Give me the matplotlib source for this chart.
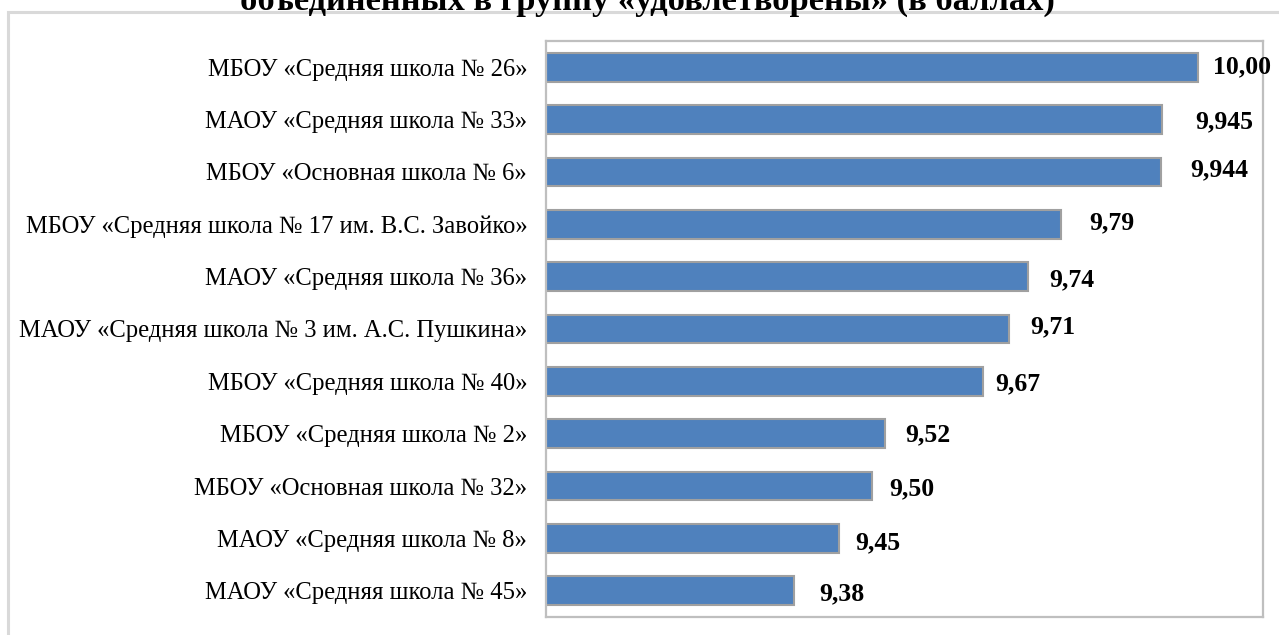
import matplotlib
matplotlib.use("Agg")
import matplotlib.pyplot as plt
from matplotlib.patches import Rectangle

# ---- data ----
schools = [
    "МБОУ «Средняя школа № 26»",
    "МАОУ «Средняя школа № 33»",
    "МБОУ «Основная школа № 6»",
    "МБОУ «Средняя школа № 17 им. В.С. Завойко»",
    "МАОУ «Средняя школа № 36»",
    "МАОУ «Средняя школа № 3 им. А.С. Пушкина»",
    "МБОУ «Средняя школа № 40»",
    "МБОУ «Средняя школа № 2»",
    "МБОУ «Основная школа № 32»",
    "МАОУ «Средняя школа № 8»",
    "МАОУ «Средняя школа № 45»",
]
scores = [10.00, 9.945, 9.944, 9.79, 9.74, 9.71, 9.67, 9.52, 9.50, 9.45, 9.38]
score_labels = ["10,00", "9,945", "9,944", "9,79", "9,74", "9,71",
                "9,67", "9,52", "9,50", "9,45", "9,38"]
title_text = "объединенных в группу «удовлетворены» (в баллах)"

# ---- style (label offsets in pixels, as placed in the original) ----
label_dx = [15, 33, 29, 28, 21, 21, 13, 20, 17, 16, 26]
label_dy = [0, 2, -2, -1, 3, -2, 2, 1, 3, 4, 3]

W, H, DPI = 1279, 635, 100
fig = plt.figure(figsize=(W / DPI, H / DPI), dpi=DPI)
fig.patch.set_facecolor("white")

serif = ["Liberation Serif", "DejaVu Serif"]

# outer chart border (continues past right/bottom edge)
fig.patches.append(Rectangle((8 / W, -0.2), 1.5, (1 - 12 / H) + 0.2,
                             transform=fig.transFigure, fill=False,
                             ec="#d9d9d9", lw=2.2, zorder=0))

# title (only its last line visible, clipped at top as in the original)
fig.text(647 / W, 1 - 10 / H, title_text, ha="center", va="baseline",
         fontsize=24.8, fontweight="bold", family=serif)

ax = fig.add_axes([546 / W, 1 - 617 / H, (1263 - 546) / W, 576 / H])
pos = list(range(len(schools)))
ax.barh(pos, scores, height=0.55, color="#4f81bd", edgecolor="#a0a0a0",
        linewidth=1.5, zorder=2)
ax.set_xlim(9.0, 10.1)
ax.set_ylim(len(schools) - 0.5, -0.5)
ax.set_xticks([])
ax.set_yticks(pos)
ax.set_yticklabels(schools, fontsize=17.7, family=serif)
ax.tick_params(axis="y", length=0, pad=13.5)
for s in ax.spines.values():
    s.set_color("#bfbfbf")
    s.set_linewidth(1.6)

for i, (v, lab) in enumerate(zip(scores, score_labels)):
    ax.annotate(lab, (v, i), xytext=(label_dx[i] * 0.72, -label_dy[i] * 0.72),
                textcoords="offset points", ha="left", va="center",
                fontsize=18.5, fontweight="bold", family=serif,
                annotation_clip=False)

fig.savefig("out.png", dpi=DPI)
